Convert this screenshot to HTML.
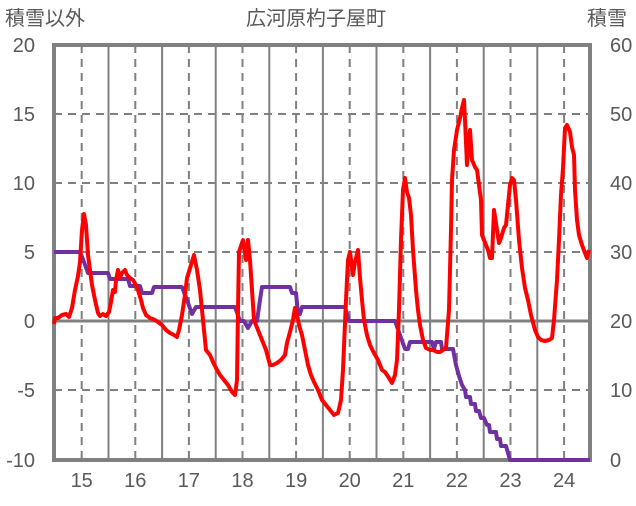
<!DOCTYPE html>
<html><head><meta charset="utf-8"><style>
html,body{margin:0;padding:0;background:#fff;}
svg text{font-family:"Liberation Sans","Noto Sans CJK JP",sans-serif;fill:#595959;font-size:20px;}
</style></head><body>
<svg width="636" height="501" viewBox="0 0 636 501" xmlns="http://www.w3.org/2000/svg">
<rect width="636" height="501" fill="#fff"/>
<g stroke="#808080" stroke-width="2" stroke-dasharray="8,6" fill="none">
<line x1="54" y1="114" x2="590" y2="114"/>
<line x1="54" y1="183" x2="590" y2="183"/>
<line x1="54" y1="252" x2="590" y2="252"/>
<line x1="54" y1="390" x2="590" y2="390"/>
<line x1="81.7" y1="45" x2="81.7" y2="460"/>
<line x1="135.3" y1="45" x2="135.3" y2="460"/>
<line x1="188.9" y1="45" x2="188.9" y2="460"/>
<line x1="242.5" y1="45" x2="242.5" y2="460"/>
<line x1="296.1" y1="45" x2="296.1" y2="460"/>
<line x1="349.7" y1="45" x2="349.7" y2="460"/>
<line x1="403.3" y1="45" x2="403.3" y2="460"/>
<line x1="456.9" y1="45" x2="456.9" y2="460"/>
<line x1="510.5" y1="45" x2="510.5" y2="460"/>
<line x1="564.1" y1="45" x2="564.1" y2="460"/>
</g>
<g stroke="#808080" stroke-width="2" fill="none">
<line x1="108.5" y1="45" x2="108.5" y2="460"/>
<line x1="162.1" y1="45" x2="162.1" y2="460"/>
<line x1="215.7" y1="45" x2="215.7" y2="460"/>
<line x1="269.3" y1="45" x2="269.3" y2="460"/>
<line x1="322.9" y1="45" x2="322.9" y2="460"/>
<line x1="376.5" y1="45" x2="376.5" y2="460"/>
<line x1="430.1" y1="45" x2="430.1" y2="460"/>
<line x1="483.7" y1="45" x2="483.7" y2="460"/>
<line x1="537.3" y1="45" x2="537.3" y2="460"/>
<line x1="54" y1="321" x2="590" y2="321" stroke-width="3"/>
</g>
<rect x="54" y="45" width="536" height="415" fill="none" stroke="#808080" stroke-width="4"/>
<polyline fill="none" stroke="#7030a0" stroke-width="4" stroke-linejoin="round" points="54,252 80,252 84,262 88,273 108,273 110,279 128,279 130,286 140,286 142,293 152,293 154,287 182,287 187,300 192,314 196,307 235,307 240,321 244,321 248,328 252,321 257,321 260,300 262,287 290,287 292,293 296,293 298,314 300,314 302,307 345,307 349,321 395,321 400,335 405,349 408,349 410,342 432,342 434,349 436,342 441,342 442,349 453,349 456,365 459,376 462,385 465,390 466,397 470,397 471,404 475,404 476,411 479,411 481,418 484,418 487,425 489,425 490,432 496,432 497,439 500,439 501,446 506,446 510,460 590,460"/>
<polyline fill="none" stroke="#ff0000" stroke-width="4" stroke-linejoin="round" points="54,324 55,318 58,318 62,315 66,314 69,317 72,308 75,290 78,276 80,262 82,230 84,214 86,225 88,255 90,270 92,285 95,300 98,313 100,316 103,314 106,316 109,312 111,302 113,290 115,292 116,280 118,270 120,278 122,273 125,270 127,275 130,278 133,280 136,285 138,290 141,300 143,308 146,315 150,318 155,320 158,322 162,325 166,330 170,333 174,335 177,337 179,330 182,315 185,295 187,278 191,265 194,255 197,270 200,290 202,310 204,330 206,350 210,355 213,362 216,368 220,375 224,380 228,385 232,392 235,395 237,380 238,310 239,252 243,240 246,260 248,240 250,260 252,290 254,320 258,330 262,340 266,350 270,365 273,365 277,363 281,360 285,355 287,343 290,332 293,320 295,308 297,315 299,325 302,335 305,350 308,365 311,375 314,382 318,390 322,400 326,405 330,410 334,415 338,413 341,400 343,370 346,300 348,260 350,252 353,275 355,262 358,250 360,278 362,300 364,320 367,335 370,345 374,353 378,360 382,370 385,372 389,378 392,383 395,375 397,360 399,310 401,240 403,190 405,178 407,192 409,198 411,215 413,250 416,290 418,310 420,325 423,340 426,348 430,350 433,350 437,352 440,352 443,350 446,348 447,335 449,310 451,230 452,180 454,150 457,130 460,118 462,108 464,100 465,120 467,165 469,140 470,130 472,160 475,167 477,170 479,185 481,200 482,235 484,240 486,245 488,250 490,258 492,258 494,210 497,230 499,243 501,238 504,228 506,225 508,205 510,185 512,178 514,180 516,200 519,240 522,268 525,288 528,300 531,315 535,330 538,337 541,340 545,341 549,340 552,338 554,320 557,280 559,240 561,195 563,168 565,128 567,125 570,132 572,147 574,155 575,190 577,220 579,235 582,245 585,253 587,258 589,250"/>
<text x="5" y="25">積雪以外</text>
<text x="316" y="25" text-anchor="middle">広河原杓子屋町</text>
<text x="587" y="25">積雪</text>
<g text-anchor="end">
<text x="35" y="52">20</text>
<text x="35" y="121">15</text>
<text x="35" y="190">10</text>
<text x="35" y="259">5</text>
<text x="35" y="328">0</text>
<text x="35" y="397">-5</text>
<text x="35" y="467">-10</text>
</g>
<g>
<text x="610" y="52">60</text>
<text x="610" y="121">50</text>
<text x="610" y="190">40</text>
<text x="610" y="259">30</text>
<text x="610" y="328">20</text>
<text x="610" y="397">10</text>
<text x="610" y="467">0</text>
</g>
<g text-anchor="middle">
<text x="81.7" y="487">15</text>
<text x="135.3" y="487">16</text>
<text x="188.9" y="487">17</text>
<text x="242.5" y="487">18</text>
<text x="296.1" y="487">19</text>
<text x="349.7" y="487">20</text>
<text x="403.3" y="487">21</text>
<text x="456.9" y="487">22</text>
<text x="510.5" y="487">23</text>
<text x="564.1" y="487">24</text>
</g>
</svg>
</body></html>
